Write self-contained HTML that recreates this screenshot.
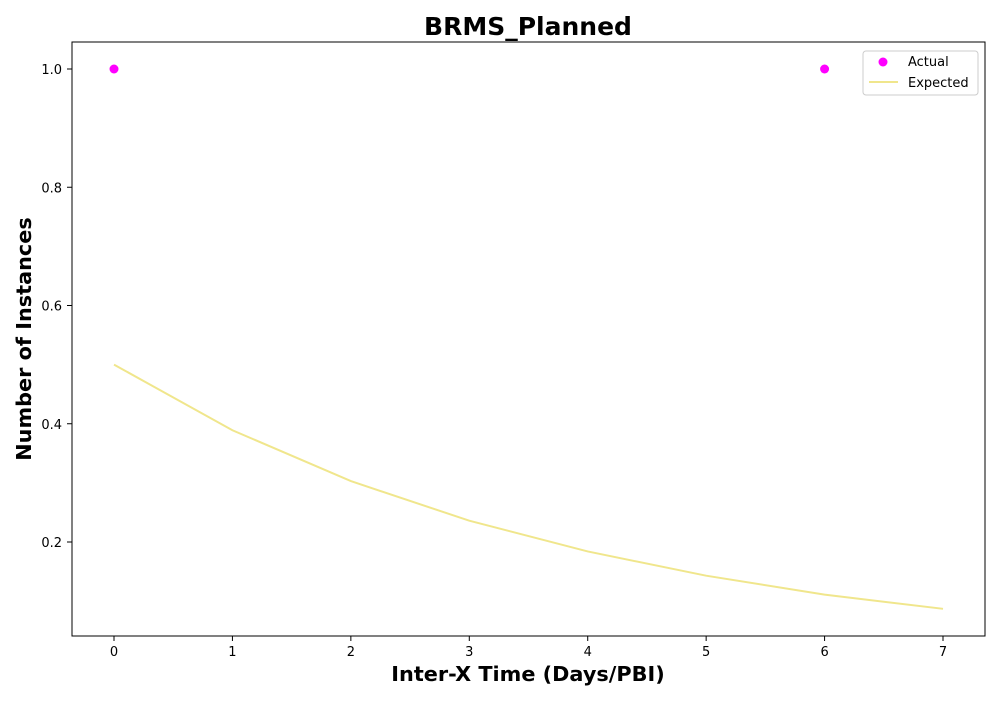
<!DOCTYPE html>
<html><head><meta charset="utf-8"><style>
body{margin:0;background:#fff}
svg text{font-family:"DejaVu Sans","Liberation Sans",sans-serif}
</style></head><body>
<svg id="chart" width="1000" height="700">
<rect width="1000" height="700" fill="#fff"/>
<text x="528" y="35" text-anchor="middle" font-size="25" font-weight="bold">BRMS_Planned</text>
<g id="plot"></g>
<rect x="72" y="42" width="913" height="594" fill="none" stroke="#000" stroke-width="1"/>
<text x="528" y="681" text-anchor="middle" font-size="20.8" font-weight="bold">Inter-X Time (Days/PBI)</text>
<text transform="translate(31,339) rotate(-90)" text-anchor="middle" font-size="20.8" font-weight="bold">Number of Instances</text>
<g>
<rect x="863" y="51" width="115" height="44" rx="3" fill="#fff" stroke="#ccc"/>
<circle cx="883" cy="62" r="4.5" fill="#ff00ff"/>
<text x="908" y="66" font-size="13">Actual</text>
<line x1="869" y1="82" x2="898" y2="82" stroke="#f0e68c" stroke-width="2"/>
<text x="908" y="87" font-size="13">Expected</text>
</g>
</svg>
<script>
const xTicks=[0,1,2,3,4,5,6,7];
const yTicks=[0.2,0.4,0.6,0.8,1.0];
const yTickLabels=["0.2","0.4","0.6","0.8","1.0"];
const expectedX=[0,1,2,3,4,5,6,7];
const expectedY=[0.5,0.389,0.303,0.236,0.184,0.143,0.111,0.087];
const actualX=[0,6];
const actualY=[1,1];
const NS="http://www.w3.org/2000/svg";
const sx=v=>114+v*118.43;
const sy=v=>660.25-v*591.25;
const g=document.getElementById('plot');
function mk(t,a){const e=document.createElementNS(NS,t);for(const k in a)e.setAttribute(k,a[k]);g.appendChild(e);return e;}
xTicks.forEach(v=>{
 const l=mk('line',{x1:sx(v),x2:sx(v),y1:636,y2:641,stroke:'#000'});
 
 
 const t=mk('text',{x:sx(v),y:656,'text-anchor':'middle','font-size':13});
 t.textContent=String(v);
 
 
});
yTicks.forEach((v,i)=>{
 const l=mk('line',{x1:67,x2:72,y1:sy(v),y2:sy(v),stroke:'#000'});
 
 
 const t=mk('text',{x:62,y:sy(v)+5,'text-anchor':'end','font-size':13});
 t.textContent=yTickLabels[i];
 
 
});
const p=mk('polyline',{points:expectedX.map((x,i)=>sx(x)+','+sy(expectedY[i])).join(' '),fill:'none',stroke:'#f0e68c','stroke-width':2});


actualX.forEach((x,i)=>{
 const c=mk('circle',{cx:sx(x),cy:sy(actualY[i]),r:4.5,fill:'#ff00ff'});
 
 
});
</script>
</body></html>
